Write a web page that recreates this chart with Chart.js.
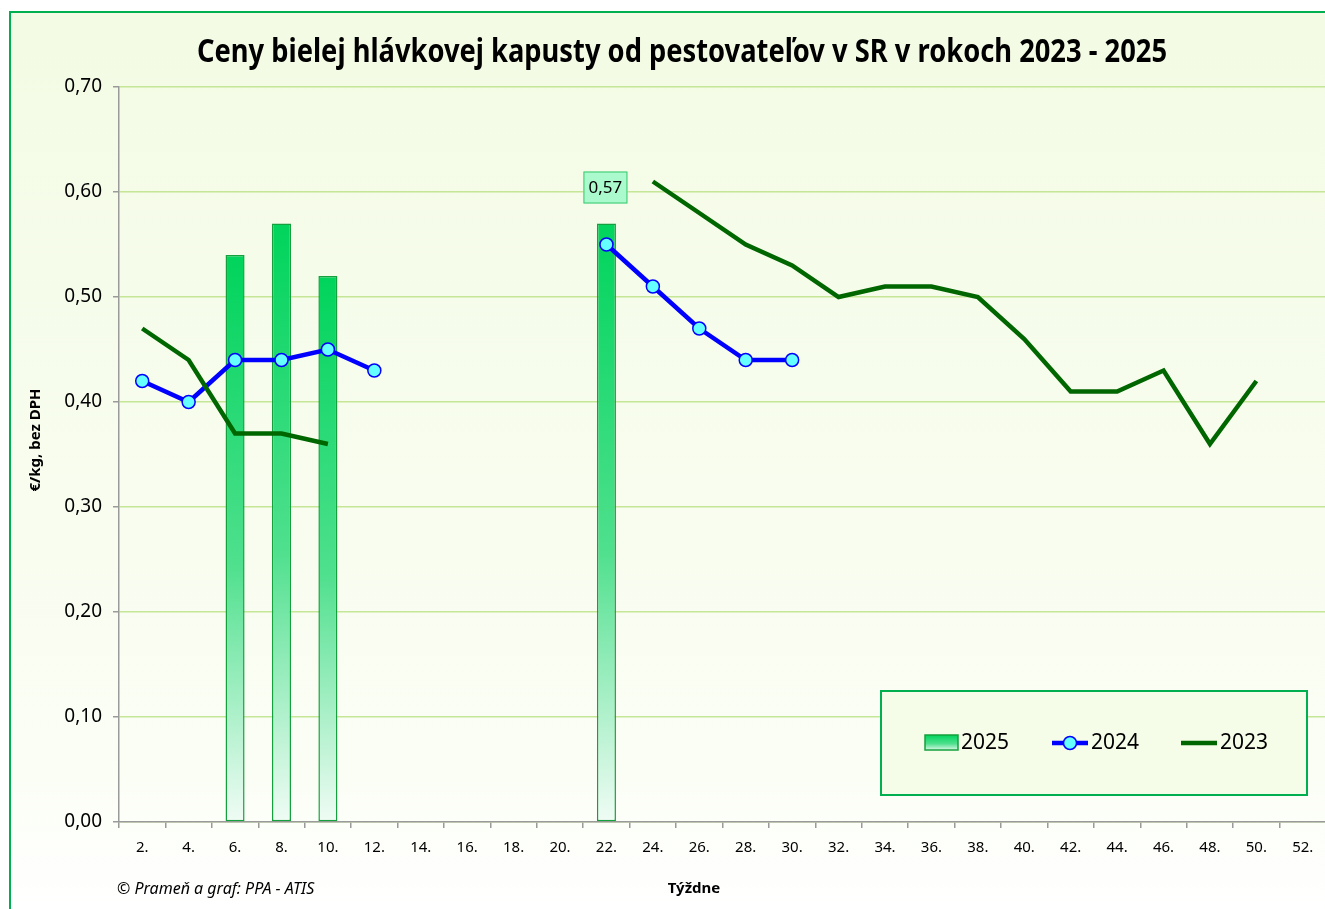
<!DOCTYPE html>
<html>
<head>
<meta charset="utf-8">
<script src="https://cdn.jsdelivr.net/npm/chart.js@4.4.1/dist/chart.umd.min.js"></script>
<style>
html, body { margin: 0; padding: 0; background: #fff; overflow: hidden; }
canvas { display: block; }
</style>
</head>
<body>
<!-- canvas a little wider than the window: the plot runs right up to the picture edge -->
<canvas id="chart" width="1334" height="909"></canvas>
<script>
// Data
const weeks = ['2.', '4.', '6.', '8.', '10.', '12.', '14.', '16.', '18.', '20.', '22.', '24.', '26.',
               '28.', '30.', '32.', '34.', '36.', '38.', '40.', '42.', '44.', '46.', '48.', '50.', '52.'];
const prices2025 = [null, null, 0.54, 0.57, 0.52, null, null, null, null, null, 0.57, null, null,
                    null, null, null, null, null, null, null, null, null, null, null, null, null];
const prices2024 = [0.42, 0.40, 0.44, 0.44, 0.45, 0.43, null, null, null, null, 0.55, 0.51, 0.47,
                    0.44, 0.44, null, null, null, null, null, null, null, null, null, null, null];
const prices2023 = [0.47, 0.44, 0.37, 0.37, 0.36, null, null, null, null, null, null, 0.61, 0.58,
                    0.55, 0.53, 0.50, 0.51, 0.51, 0.50, 0.46, 0.41, 0.41, 0.43, 0.36, 0.42, null];
const yTicks = [0, 0.1, 0.2, 0.3, 0.4, 0.5, 0.6, 0.7];
const labelledBars = [10]; // index of the 2025 bar that carries a value label

const FONT = "'Noto Sans', 'Open Sans', sans-serif";
const GREEN_BORDER = '#00b050';
const GRID_GREEN = 'rgb(196,230,150)';
const AXIS_GREY = '#9a9a9a';

function fmt(v) {
    return v.toFixed(2).replace('.', ',');
}

// vertical gradient for one bar, top strong green, bottom almost white
function barGradient(ctx, top, bottom) {
    const g = ctx.createLinearGradient(0, top, 0, bottom);
    g.addColorStop(0, 'rgb(0,212,92)');
    g.addColorStop(0.55, 'rgb(80,224,142)');
    g.addColorStop(1, 'rgb(240,252,245)');
    return g;
}

// Panel background + outer border + title + footer texts
const panelPlugin = {
    id: 'panel',
    beforeDraw(chart) {
        const ctx = chart.ctx;
        ctx.save();
        ctx.fillStyle = '#ffffff';
        ctx.fillRect(0, 0, chart.width, chart.height);
        const g = ctx.createLinearGradient(0, 12, 0, chart.height);
        g.addColorStop(0, '#f3fbe4');
        g.addColorStop(0.85, '#fbfef5');
        g.addColorStop(1, '#ffffff');
        ctx.fillStyle = g;
        ctx.fillRect(10, 13, chart.width, chart.height);
        ctx.strokeStyle = GREEN_BORDER;
        ctx.lineWidth = 2;
        ctx.beginPath();
        ctx.moveTo(10, chart.height + 5);
        ctx.lineTo(10, 12);
        ctx.lineTo(chart.width + 5, 12);
        ctx.stroke();
        ctx.restore();
    },
    afterDraw(chart) {
        const ctx = chart.ctx;
        ctx.save();
        // title, compressed horizontally to the reference width
        const title = 'Ceny bielej hlávkovej kapusty od pestovateľov v SR v rokoch 2023 - 2025';
        ctx.font = 'bold 32px ' + FONT;
        ctx.fillStyle = '#000';
        ctx.textBaseline = 'middle';
        ctx.textAlign = 'center';
        const w = ctx.measureText(title).width;
        ctx.translate(682, 53);
        ctx.scale(970 / w, 1);
        ctx.fillText(title, 0, 0);
        ctx.restore();

        ctx.save();
        ctx.fillStyle = '#000';
        ctx.textBaseline = 'middle';
        // y axis title
        ctx.font = 'bold 15px ' + FONT;
        ctx.translate(36, 440);
        ctx.rotate(-Math.PI / 2);
        ctx.textAlign = 'center';
        ctx.fillText('€/kg, bez DPH', 0, 0);
        ctx.restore();

        ctx.save();
        ctx.fillStyle = '#000';
        ctx.textBaseline = 'middle';
        ctx.font = 'bold 15px ' + FONT;
        ctx.textAlign = 'center';
        ctx.fillText('Týždne', 694, 889);
        ctx.font = 'italic 16px ' + FONT;
        ctx.textAlign = 'left';
        ctx.fillText('© Prameň a graf: PPA - ATIS', 117, 889);
        ctx.restore();
    }
};

// value label box above selected bars
const barLabelPlugin = {
    id: 'barLabel',
    afterDatasetsDraw(chart) {
        const ctx = chart.ctx;
        const meta = chart.getDatasetMeta(0);
        ctx.save();
        ctx.font = '17px ' + FONT;
        ctx.textAlign = 'center';
        ctx.textBaseline = 'middle';
        labelledBars.forEach(i => {
            const bar = meta.data[i];
            const txt = fmt(prices2025[i]);
            const bw = 44, bh = 32;
            const x = bar.x - bw / 2 - 1;
            const y = bar.y - 20 - bh;
            ctx.fillStyle = 'rgb(170,250,205)';
            ctx.fillRect(x, y, bw, bh);
            ctx.strokeStyle = 'rgb(60,200,110)';
            ctx.lineWidth = 1;
            ctx.strokeRect(x + 0.5, y + 0.5, bw - 1, bh - 1);
            ctx.fillStyle = '#000';
            ctx.fillText(txt, x + bw / 2, y + bh / 2 + 1);
        });
        ctx.restore();
    }
};

// boxed legend in the bottom right corner
const boxLegendPlugin = {
    id: 'boxLegend',
    afterDraw(chart) {
        const ctx = chart.ctx;
        const bx = 881, by = 691, bw = 426, bh = 104;
        ctx.save();
        ctx.fillStyle = '#f5fce8';
        ctx.fillRect(bx, by, bw, bh);
        ctx.strokeStyle = GREEN_BORDER;
        ctx.lineWidth = 2;
        ctx.strokeRect(bx, by, bw, bh);

        const cy = 743;
        ctx.font = '21px ' + FONT;
        ctx.textBaseline = 'middle';
        ctx.textAlign = 'left';
        ctx.fillStyle = '#000';

        // 2025 swatch
        ctx.fillStyle = barGradient(ctx, 735, 751);
        ctx.fillRect(925, 735, 33, 15);
        ctx.strokeStyle = 'rgb(20,160,60)';
        ctx.lineWidth = 1.5;
        ctx.strokeRect(925, 735, 33, 15);
        ctx.fillStyle = '#000';
        ctx.fillText(chart.data.datasets[0].label, 961, cy);

        // 2024 line + marker
        ctx.strokeStyle = '#0000ff';
        ctx.lineWidth = 4.5;
        ctx.beginPath();
        ctx.moveTo(1052, cy);
        ctx.lineTo(1088, cy);
        ctx.stroke();
        ctx.beginPath();
        ctx.arc(1070, cy, 6.5, 0, Math.PI * 2);
        ctx.fillStyle = '#66ffff';
        ctx.fill();
        ctx.lineWidth = 1.5;
        ctx.stroke();
        ctx.fillStyle = '#000';
        ctx.fillText(chart.data.datasets[1].label, 1091, cy);

        // 2023 line
        ctx.strokeStyle = '#006600';
        ctx.lineWidth = 4.5;
        ctx.beginPath();
        ctx.moveTo(1181, cy);
        ctx.lineTo(1217, cy);
        ctx.stroke();
        ctx.fillText(chart.data.datasets[2].label, 1220, cy);
        ctx.restore();
    }
};

const ctx = document.getElementById('chart').getContext('2d');
new Chart(ctx, {
    type: 'bar',
    data: {
        labels: weeks,
        datasets: [{
            type: 'bar',
            label: '2025',
            data: prices2025,
            order: 3,
            backgroundColor: function(c) {
                const chart = c.chart;
                if (c.raw == null || !chart.chartArea || !chart.scales.y) return 'rgb(60,215,120)';
                const y = chart.scales.y;
                return barGradient(chart.ctx, y.getPixelForValue(c.raw), y.getPixelForValue(0));
            },
            borderColor: 'rgb(20,160,60)',
            borderWidth: 1.5,
            borderSkipped: false,
            barPercentage: 0.41,
            categoryPercentage: 1
        }, {
            type: 'line',
            label: '2024',
            data: prices2024,
            order: 2,
            borderColor: '#0000ff',
            borderWidth: 4.5,
            pointRadius: 6.5,
            pointBackgroundColor: '#66ffff',
            pointBorderColor: '#0000ff',
            pointBorderWidth: 1.5,
            spanGaps: false,
            tension: 0
        }, {
            type: 'line',
            label: '2023',
            data: prices2023,
            order: 1,
            borderColor: '#006600',
            borderWidth: 4.5,
            pointRadius: 0,
            spanGaps: false,
            tension: 0
        }]
    },
    options: {
        responsive: false,
        animation: false,
        layout: { padding: { top: 87, left: 0, right: 0, bottom: 0 } },
        plugins: {
            legend: { display: false },
            tooltip: { enabled: false },
            title: { display: false }
        },
        scales: {
            x: {
                offset: true,
                grid: {
                    display: true,
                    offset: true,
                    drawOnChartArea: false,
                    drawTicks: true,
                    tickLength: 6,
                    color: AXIS_GREY,
                    lineWidth: 1.5
                },
                border: { color: AXIS_GREY, width: 1.5 },
                ticks: {
                    color: '#000',
                    font: { family: FONT, size: 15 },
                    padding: 11,
                    maxRotation: 0,
                    autoSkip: false
                },
                afterFit: function(scale) {
                    scale.height = 87;
                    scale.paddingLeft = 0;
                    scale.paddingRight = 0;
                }
            },
            y: {
                min: 0,
                max: 0.7,
                afterBuildTicks: function(scale) {
                    scale.ticks = yTicks.map(v => ({ value: v }));
                },
                grid: {
                    color: GRID_GREEN,
                    lineWidth: 1.5,
                    tickColor: AXIS_GREY,
                    tickLength: 6
                },
                border: { color: AXIS_GREY, width: 1.5 },
                ticks: {
                    color: '#000',
                    font: { family: FONT, size: 19 },
                    padding: 11,
                    callback: function(v) { return fmt(v); }
                },
                afterFit: function(scale) {
                    scale.width = 119;
                }
            }
        }
    },
    plugins: [panelPlugin, barLabelPlugin, boxLegendPlugin]
});
</script>
</body>
</html>
